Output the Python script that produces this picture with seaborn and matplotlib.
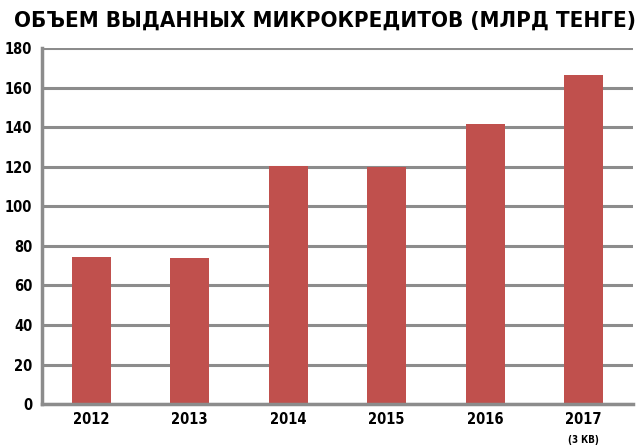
import matplotlib
matplotlib.use("Agg")
import matplotlib.pyplot as plt
import seaborn as sns
import pandas as pd
import numpy as np

# data
years = ["2012", "2013", "2014", "2015", "2016", "2017"]
volume = [74.5, 74, 120.5, 120, 141.5, 166.5]
y_ticks = [0, 20, 40, 60, 80, 100, 120, 140, 160, 180]

df = pd.DataFrame({"year": years, "volume": volume})

sns.set_style("white")
plt.rcParams['font.family'] = ['DejaVu Sans']
plt.rcParams['font.stretch'] = 'condensed'
plt.rcParams['text.color'] = 'black'
plt.rcParams['xtick.labelcolor'] = 'black'
plt.rcParams['ytick.labelcolor'] = 'black'

fig = plt.figure(figsize=(6.4, 4.45), dpi=100)
ax = fig.add_axes([0.0656, 0.092, 0.9234, 0.80])

grey = "#8c8c8c"
ax.set_axisbelow(True)
ax.yaxis.grid(True, color=grey, linewidth=2.2)

sns.barplot(data=df, x="year", y="volume", color="#c0504d", width=0.4,
            saturation=1, linewidth=0, ax=ax)

ax.set_ylim(0, 180)
ax.set_xlim(-0.5, 5.5)
ax.set_yticks(y_ticks)
ax.set_yticklabels([str(t) for t in y_ticks], fontsize=10.5, fontweight="bold")

# x labels: last one gets a smaller second line
ax.set_xticks(range(len(years)))
ax.set_xticklabels(years, fontsize=10.5, fontweight="bold")
ax.tick_params(axis="x", which="major", length=0, pad=6)
ax.set_xticks(np.arange(0.5, len(years) - 0.5, 1), minor=True)
ax.tick_params(axis="x", which="minor", length=6, width=2, color=grey, direction="out")
ax.tick_params(axis="y", length=5, width=2, color=grey, direction="out", pad=2)
ax.text(5, -15.5, "(3 КВ)", ha="center", va="top", fontsize=7, fontweight="bold")

ax.set_xlabel("")
ax.set_ylabel("")

for side in ["top", "right"]:
    ax.spines[side].set_visible(False)
for side in ["left", "bottom"]:
    ax.spines[side].set_color(grey)
    ax.spines[side].set_linewidth(2.5)

fig.text(0.508, 0.976, "ОБЪЕМ ВЫДАННЫХ МИКРОКРЕДИТОВ (МЛРД ТЕНГЕ)", ha="center",
         va="top", fontsize=16, fontweight="heavy", fontstretch="condensed")

fig.savefig("out.png", dpi=100)
